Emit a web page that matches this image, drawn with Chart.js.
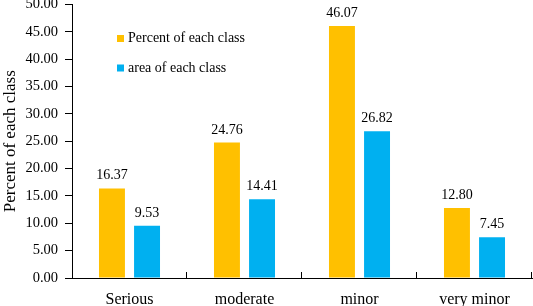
<!DOCTYPE html>
<html>
<head>
<meta charset="utf-8">
<script src="https://cdn.jsdelivr.net/npm/chart.js@4/dist/chart.umd.min.js"></script>
<style>
  html, body { margin: 0; padding: 0; background: #fff; }
  #wrap { width: 533px; height: 306px; }
</style>
</head>
<body>
<div id="wrap"><canvas id="classChart"></canvas></div>
<script>
const categories = ['Serious', 'moderate', 'minor', 'very minor'];
const percentValues = [16.37, 24.76, 46.07, 12.80];
const areaValues = [9.53, 14.41, 26.82, 7.45];
const seriesNames = ['Percent of each class', 'area of each class'];
const yTitle = 'Percent of each class';

const fontFamily = '"Liberation Serif", "Times New Roman", serif';

// value labels above each bar
const valueLabels = {
    id: 'valueLabels',
    afterDatasetsDraw(chart) {
        const ctx = chart.ctx;
        ctx.save();
        ctx.font = '14px ' + fontFamily;
        ctx.fillStyle = '#000';
        ctx.textAlign = 'center';
        ctx.textBaseline = 'alphabetic';
        chart.data.datasets.forEach((ds, i) => {
            chart.getDatasetMeta(i).data.forEach((bar, j) => {
                ctx.fillText(ds.data[j].toFixed(2), bar.x, bar.y - 9);
            });
        });
        ctx.restore();
    }
};

// small upward ticks between categories on the x axis
const categoryTicks = {
    id: 'categoryTicks',
    afterDraw(chart) {
        const x = chart.scales.x;
        const ctx = chart.ctx;
        const step = (x.right - x.left) / categories.length;
        ctx.save();
        ctx.strokeStyle = '#000';
        ctx.lineWidth = 1;
        for (let i = 1; i <= categories.length; i++) {
            const px = Math.round(x.left + step * i) - 0.5;
            ctx.beginPath();
            ctx.moveTo(px, x.top);
            ctx.lineTo(px, x.top - 6);
            ctx.stroke();
        }
        ctx.restore();
    }
};

// legend drawn inside the plot area
const innerLegend = {
    id: 'innerLegend',
    afterDraw(chart) {
        const ctx = chart.ctx;
        ctx.save();
        ctx.font = '14px ' + fontFamily;
        ctx.textBaseline = 'middle';
        ctx.textAlign = 'left';
        chart.data.datasets.forEach((ds, i) => {
            const y = 38.5 + i * 29.5;
            ctx.fillStyle = ds.backgroundColor;
            ctx.fillRect(117, y - 3.5, 7, 7);
            ctx.fillStyle = '#000';
            ctx.fillText(ds.label, 128, y);
        });
        ctx.restore();
    }
};

new Chart(document.getElementById('classChart'), {
    type: 'bar',
    data: {
        labels: categories,
        datasets: [
            { label: seriesNames[0], data: percentValues, backgroundColor: '#FFC000' },
            { label: seriesNames[1], data: areaValues, backgroundColor: '#00B0F0' }
        ]
    },
    options: {
        responsive: true,
        maintainAspectRatio: false,
        animation: false,
        layout: { padding: { top: 4.5, right: 1, left: 0, bottom: 0 } },
        datasets: {
            bar: { categoryPercentage: 0.61, barPercentage: 0.74 }
        },
        plugins: {
            legend: { display: false },
            tooltip: { enabled: false }
        },
        scales: {
            x: {
                grid: { display: false, drawTicks: false },
                border: { color: '#000', width: 1 },
                ticks: { color: '#000', padding: 12, font: { family: fontFamily, size: 16 } },
                afterFit(scale) {
                    scale.height = 28;
                    scale.paddingLeft = 0;
                    scale.paddingRight = 0;
                }
            },
            y: {
                min: 0,
                max: 50,
                grid: { drawOnChartArea: false, drawTicks: true, tickLength: 7, color: '#000' },
                border: { color: '#000', width: 1 },
                ticks: {
                    stepSize: 5,
                    color: '#000',
                    padding: 7,
                    font: { family: fontFamily, size: 14.5 },
                    callback: v => v.toFixed(2)
                },
                title: {
                    display: true,
                    text: yTitle,
                    color: '#000',
                    padding: 0,
                    font: { family: fontFamily, size: 17 }
                },
                afterFit(scale) {
                    scale.width = 72;
                    scale.paddingTop = 0;
                    scale.paddingBottom = 0;
                }
            }
        }
    },
    plugins: [valueLabels, categoryTicks, innerLegend]
});
</script>
</body>
</html>
